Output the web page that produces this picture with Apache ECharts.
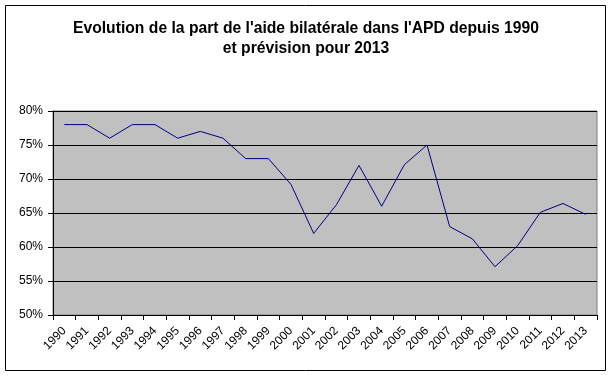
<!DOCTYPE html>
<html><head><meta charset="utf-8">
<script src="https://cdn.jsdelivr.net/npm/echarts@6/dist/echarts.min.js"></script>
<style>html,body{margin:0;padding:0;background:#fff}#c{width:612px;height:375px}</style>
</head><body><div id="c"></div>
<script>
var years = ['1990','1991','1992','1993','1994','1995','1996','1997','1998','1999','2000','2001','2002','2003','2004','2005','2006','2007','2008','2009','2010','2011','2012','2013'];
var bilateralShare = [78,78,76,78,78,76,77,76,73,73,69.2,62,66.2,72,66,72.1,75,63,61.2,57.1,60.2,65.1,66.4,64.8];
var yTicks = [50,55,60,65,70,75,80];
var titleText = "Evolution de la part de l'aide bilatérale dans l'APD depuis 1990\net prévision pour 2013";

var chart = echarts.init(document.getElementById('c'), null, {renderer:'canvas'});
chart.setOption({
  animation:false,
  backgroundColor:'#fff',
  title:{text:titleText,left:'center',top:14,
    textStyle:{fontFamily:'Liberation Sans, Arial',fontWeight:'bold',fontSize:15.7,color:'#000',lineHeight:20}},
  grid:{left:53,top:111,width:544,height:204,show:true,backgroundColor:'#C0C0C0',borderColor:'#808080',borderWidth:1},
  graphic:[{type:'rect',shape:{x:5.5,y:5.5,width:600,height:365},style:{fill:'none',stroke:'#000',lineWidth:1},silent:true}],
  xAxis:{type:'category',data:years,boundaryGap:true,
    axisLine:{lineStyle:{color:'#000',width:1}},
    axisTick:{show:true,length:5,lineStyle:{color:'#000'}},
    axisLabel:{rotate:45,margin:14,fontFamily:'Liberation Sans, Arial',fontSize:12,color:'#000'}},
  yAxis:{type:'value',min:yTicks[0],max:yTicks[yTicks.length-1],interval:5,
    axisLine:{show:true,lineStyle:{color:'#000',width:1}},
    axisTick:{show:true,length:5,lineStyle:{color:'#000'}},
    axisLabel:{formatter:function(v){return v+'%';},margin:10,fontFamily:'Liberation Sans, Arial',fontSize:12,color:'#000'},
    splitLine:{show:true,lineStyle:{color:'#000',width:1}}},
  series:[{type:'line',data:bilateralShare,symbol:'none',lineStyle:{color:'#000080',width:1},itemStyle:{color:'#000080'}}]
});
</script></body></html>
